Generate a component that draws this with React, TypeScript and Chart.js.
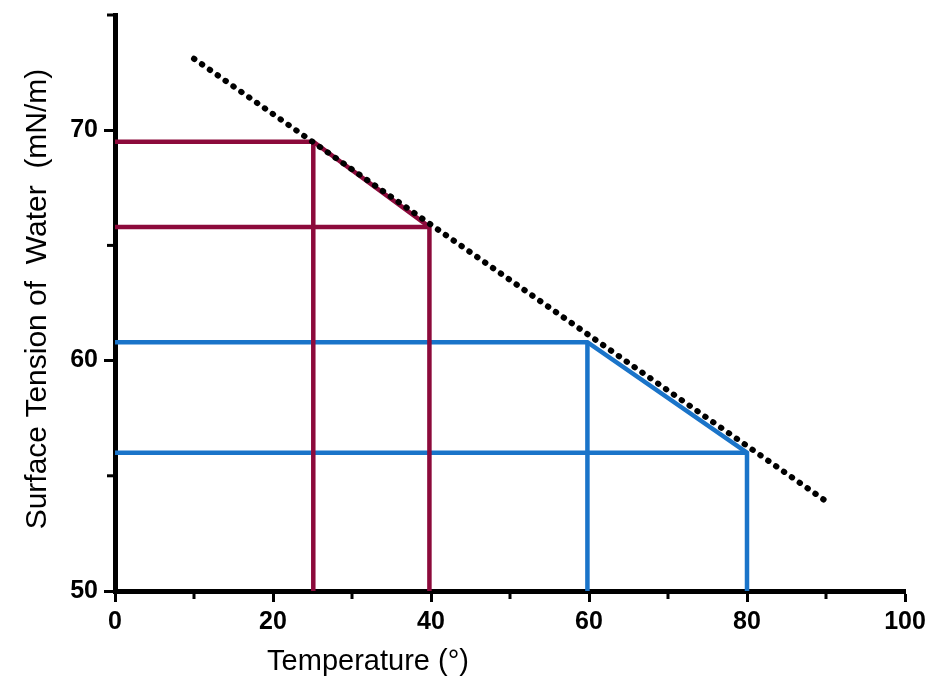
import React, { useEffect, useRef } from "react";
import { Chart, registerables } from "chart.js";

Chart.register(...registerables);

// Temperature (°) and surface tension (mN/m) values
const trendT = [10, 90];
const trendS = [73.1, 53.9];
const redT = [25.1, 39.8];
const redS = [69.5, 65.8];
const blueT = [59.8, 80];
const blueS = [60.8, 56.0];

const xTicksMajor = [0, 20, 40, 60, 80, 100];
const xTicksMinor = [10, 30, 50, 70, 90];
const yTicksMajor = [50, 60, 70];
const yTicksMinor = [55, 65, 75];

const X_MIN = 0;
const X_MAX = 100;
const Y_MIN = 50;
const Y_MAX = 75;

const xTitle = "Temperature (°)";
const yTitle = "Surface Tension of  Water  (mN/m)";

const RED = "#8c0a3b";
const BLUE = "#1a74c9";

function dropLines(t: number[], s: number[], color: string) {
  const common = {
    borderColor: color,
    borderWidth: 4.5,
    pointRadius: 0,
    showLine: true,
    fill: false,
    tension: 0,
    order: 2,
  };
  return [
    { ...common, data: [{ x: X_MIN, y: s[0] }, { x: t[0], y: s[0] }, { x: t[1], y: s[1] }, { x: t[1], y: Y_MIN }] },
    { ...common, data: [{ x: X_MIN, y: s[1] }, { x: t[1], y: s[1] }] },
    { ...common, data: [{ x: t[0], y: s[0] }, { x: t[0], y: Y_MIN }] },
  ];
}

const decorPlugin = {
  id: "decor",
  afterDraw(chart: any) {
    const { ctx, scales } = chart;
    const xs = scales.x;
    const ys = scales.y;
    ctx.save();
    ctx.strokeStyle = "#000";
    ctx.lineWidth = 3;
    // minor ticks
    const xb = ys.getPixelForValue(Y_MIN);
    xTicksMinor.forEach((v) => {
      const px = xs.getPixelForValue(v);
      ctx.beginPath();
      ctx.moveTo(px, xb);
      ctx.lineTo(px, xb + 8);
      ctx.stroke();
    });
    const yl = xs.getPixelForValue(X_MIN);
    yTicksMinor.forEach((v) => {
      const py = ys.getPixelForValue(v);
      ctx.beginPath();
      ctx.moveTo(yl, py);
      ctx.lineTo(yl - 8, py);
      ctx.stroke();
    });
    // axis titles
    ctx.fillStyle = "#000";
    ctx.textAlign = "center";
    ctx.textBaseline = "alphabetic";
    ctx.font = '29px "Liberation Sans", Arial, sans-serif';
    ctx.fillText(xTitle, 368, 670);
    ctx.font = '30px "Liberation Sans", Arial, sans-serif';
    ctx.translate(46, 299);
    ctx.rotate(-Math.PI / 2);
    ctx.fillText(yTitle, 0, 0);
    ctx.restore();
  },
};

export default function App() {
  const ref = useRef<HTMLCanvasElement | null>(null);

  useEffect(() => {
    if (!ref.current) return;
    const datasets: any[] = [
      {
        data: trendT.map((t, i) => ({ x: t, y: trendS[i] })),
        borderColor: "#000",
        borderWidth: 6,
        borderDash: [0.5, 9.1],
        borderCapStyle: "round",
        pointRadius: 0,
        showLine: true,
        fill: false,
        order: 0,
      },
      ...dropLines(redT, redS, RED),
      ...dropLines(blueT, blueS, BLUE),
    ];

    const tickFont = { family: '"Liberation Sans", Arial, sans-serif', size: 25, weight: "bold" as const };

    const chart = new Chart(ref.current, {
      type: "scatter",
      data: { datasets },
      options: {
        animation: false,
        responsive: false,
        maintainAspectRatio: false,
        layout: { padding: { top: 15, right: 35, left: 0, bottom: 0 } },
        plugins: { legend: { display: false }, tooltip: { enabled: false }, title: { display: false } },
        scales: {
          x: {
            type: "linear",
            min: X_MIN,
            max: X_MAX,
            afterFit: (s: any) => {
              s.height = 97;
              s.paddingLeft = 0;
              s.paddingRight = 0;
            },
            afterBuildTicks: (s: any) => {
              s.ticks = xTicksMajor.map((v) => ({ value: v }));
            },
            ticks: {
              color: "#000",
              font: tickFont,
              padding: 5,
              maxRotation: 0,
              autoSkip: false,
            },
            grid: {
              drawOnChartArea: false,
              drawTicks: true,
              tickLength: 11,
              tickWidth: 3,
              tickColor: "#000",
            },
            border: { display: true, color: "#000", width: 5 },
          },
          y: {
            type: "linear",
            min: Y_MIN,
            max: Y_MAX,
            afterFit: (s: any) => {
              s.width = 115;
              s.paddingTop = 0;
              s.paddingBottom = 0;
            },
            afterBuildTicks: (s: any) => {
              s.ticks = yTicksMajor.map((v) => ({ value: v }));
            },
            ticks: {
              color: "#000",
              font: tickFont,
              padding: 6,
              autoSkip: false,
            },
            grid: {
              drawOnChartArea: false,
              drawTicks: true,
              tickLength: 11,
              tickWidth: 3,
              tickColor: "#000",
            },
            border: { display: true, color: "#000", width: 5 },
          },
        },
      },
      plugins: [decorPlugin],
    });
    return () => chart.destroy();
  }, []);

  return (
    <div style={{ position: "absolute", left: 0, top: 0, width: 940, height: 688, background: "#fff" }}>
      <canvas ref={ref} width={940} height={688} style={{ width: 940, height: 688 }} />
    </div>
  );
}
